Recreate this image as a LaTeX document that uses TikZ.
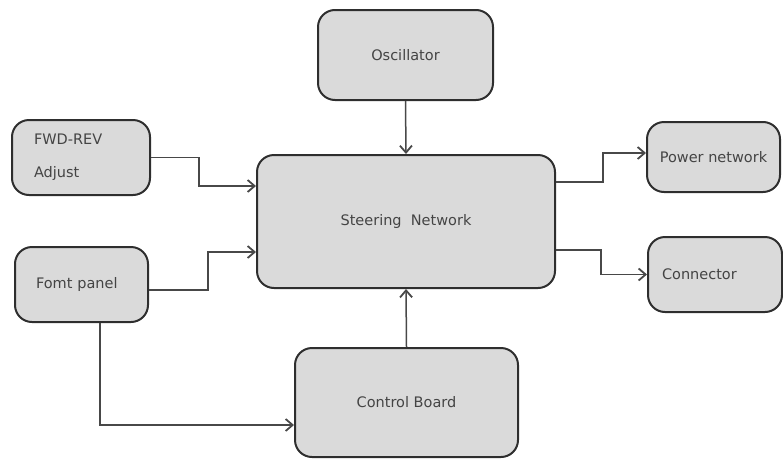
\documentclass[tikz,border=0pt]{standalone}
\usepackage{fontspec}
\setmainfont{DejaVu Sans}
\usetikzlibrary{arrows.meta}
\definecolor{boxfill}{HTML}{DADADA}
\definecolor{boxline}{HTML}{2E2E2E}
\definecolor{txt}{HTML}{444444}
\definecolor{wire}{HTML}{484848}
\begin{document}
\begin{tikzpicture}[x=1pt,y=-1pt,
  blk/.style={draw=boxline, line width=2pt, fill=boxfill, rounded corners=17pt,
    font=\fontsize{14.5}{17}\selectfont, text=txt, inner sep=0pt},
  arr/.style={draw=wire, line width=1.5pt, -{Straight Barb[length=7pt,width=12pt,line width=1.8pt]}}]
\useasboundingbox (0,0) rectangle (783,461);
\node[blk, minimum width=175pt, minimum height=90pt] (osc) at (405.5,55) {Oscillator};
\node[blk, minimum width=298pt, minimum height=133pt] (steer) at (406,221.5) {Steering\ \ Network};
\node[blk, minimum width=138pt, minimum height=75pt, text width=94pt, align=left] (fwd) at (81,157.5) {FWD-REV\\[16pt]Adjust};
\node[blk, minimum width=133pt, minimum height=75pt, text width=91pt, align=left] (font) at (81.5,284.5) {Fomt panel};
\node[blk, minimum width=133pt, minimum height=70pt] (power) at (713.5,157) {Power network};
\node[blk, minimum width=134pt, minimum height=75pt, text width=106pt, align=left] (conn) at (715,274.5) {Connector};
\node[blk, minimum width=223pt, minimum height=109pt] (ctrl) at (406.5,402.5) {Control Board};
\draw[arr] (osc.south) -- (steer.north);
\draw[arr] (ctrl.north) -- (steer.south);
\draw[arr] (fwd.east) -- ++(48,0) |- ([yshift=35.5pt]steer.west);
\draw[arr] ([yshift=-5.5pt]font.east) -- ++(59,0) |- ([yshift=-30.5pt]steer.west);
\draw[arr] ([yshift=39.5pt]steer.east) -- ++(47,0) |- ([yshift=4pt]power.west);
\draw[arr] ([yshift=-28.5pt]steer.east) -- ++(45,0) |- (conn.west);
\draw[arr] ([xshift=18.5pt]font.south) |- ([yshift=-22.5pt]ctrl.west);
\end{tikzpicture}
\end{document}
